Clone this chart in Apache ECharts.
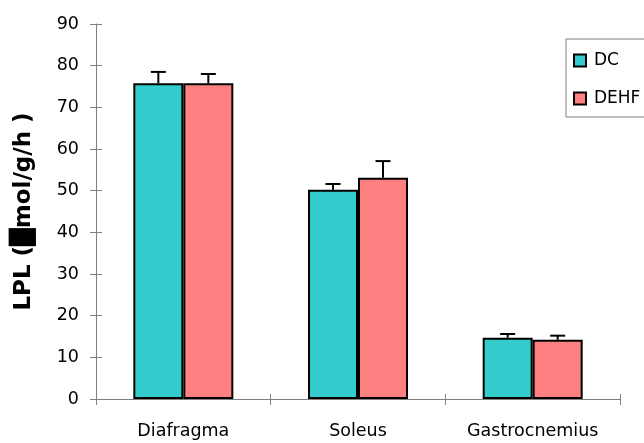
<!DOCTYPE html>
<html><head><meta charset="utf-8">
<script src="https://cdn.jsdelivr.net/npm/echarts@6/dist/echarts.min.js"></script>
<style>html,body{margin:0;padding:0;background:#fff}#c{width:644px;height:443px}</style>
</head><body><div id="c"></div>
<script>
const categories = ['Diafragma', 'Soleus', 'Gastrocnemius'];
const dcValues = [75.8, 50.2, 14.7];
const dehfValues = [75.8, 53.1, 14.2];
const dcErrors = [2.7, 1.4, 0.9];
const dehfErrors = [2.2, 4.0, 1.0];
const yTicks = [0, 10, 20, 30, 40, 50, 60, 70, 80, 90];

const FONT = '"DejaVu Sans", sans-serif';
const chart = echarts.init(document.getElementById('c'), null, {renderer: 'canvas'});

function errSeries(name, vals, errs, offset) {
  return {
    type: 'custom', name: name + ' err', z: 5, silent: true,
    data: vals.map((v, i) => [i, v, errs[i]]),
    renderItem: function (params, api) {
      const base = api.coord([api.value(0), api.value(1)]);
      const top = api.coord([api.value(0), api.value(1) + api.value(2)]);
      const x = base[0] + offset;
      const st = {stroke: '#000', lineWidth: 2};
      return {type: 'group', children: [
        {type: 'line', shape: {x1: x, y1: base[1], x2: x, y2: top[1]}, style: st},
        {type: 'line', shape: {x1: x - 7.5, y1: top[1], x2: x + 7.5, y2: top[1]}, style: st}
      ]};
    }
  };
}

const axisLine = {lineStyle: {color: '#808080', width: 1}};
chart.setOption({
  animation: false,
  backgroundColor: '#fff',
  textStyle: {fontFamily: FONT},
  grid: {left: 96, right: 24, top: 24, bottom: 44},
  legend: {
    orient: 'vertical', left: 566, top: 39,
    data: ['DC', 'DEHF'],
    itemWidth: 12, itemHeight: 12, itemGap: 21,
    padding: [13, 60, 10, 7],
    borderColor: '#808080', borderWidth: 1,
    icon: 'rect',
    textStyle: {fontFamily: FONT, fontSize: 17, color: '#000', padding: [0, 0, 0, 3]}
  },
  xAxis: [{
    type: 'category', data: categories,
    axisLine: axisLine,
    axisTick: {show: true, length: 6, lineStyle: {color: '#808080'}},
    axisLabel: {color: '#000', fontSize: 17.5, fontFamily: FONT, margin: 23},
    splitLine: {show: false}
  }, {
    type: 'category', data: categories, position: 'bottom',
    axisLine: {show: false},
    axisTick: {show: true, inside: true, length: 5, lineStyle: {color: '#808080'}},
    axisLabel: {show: false}
  }],
  yAxis: [{
    type: 'value', min: 0, max: 90, interval: 10,
    name: 'LPL (\u2588mol/g/h )', nameLocation: 'middle', nameGap: 60,
    nameTextStyle: {fontFamily: FONT, fontSize: 23, fontWeight: 'bold', color: '#000'},
    axisLine: {show: true, lineStyle: {color: '#808080', width: 1}},
    axisTick: {show: true, length: 6, lineStyle: {color: '#808080'}},
    axisLabel: {color: '#000', fontSize: 17.5, fontFamily: FONT, margin: 17,
      formatter: v => yTicks.includes(v) ? String(v) : ''},
    splitLine: {show: false}
  }, {
    type: 'value', min: 0, max: 90, interval: 10, position: 'left',
    axisLine: {show: false},
    axisTick: {show: true, inside: true, length: 6, lineStyle: {color: '#808080'}},
    axisLabel: {show: false}, splitLine: {show: false}
  }],
  series: [
    {name: 'DC', type: 'bar', data: dcValues, barWidth: 50, barGap: '0%',
      itemStyle: {color: '#33CCCC', borderColor: '#000', borderWidth: 2}},
    {name: 'DEHF', type: 'bar', data: dehfValues, barWidth: 50, barGap: '0%',
      itemStyle: {color: '#FF8080', borderColor: '#000', borderWidth: 2}},
    errSeries('DC', dcValues, dcErrors, -25),
    errSeries('DEHF', dehfValues, dehfErrors, 25)
  ]
});
</script></body></html>
